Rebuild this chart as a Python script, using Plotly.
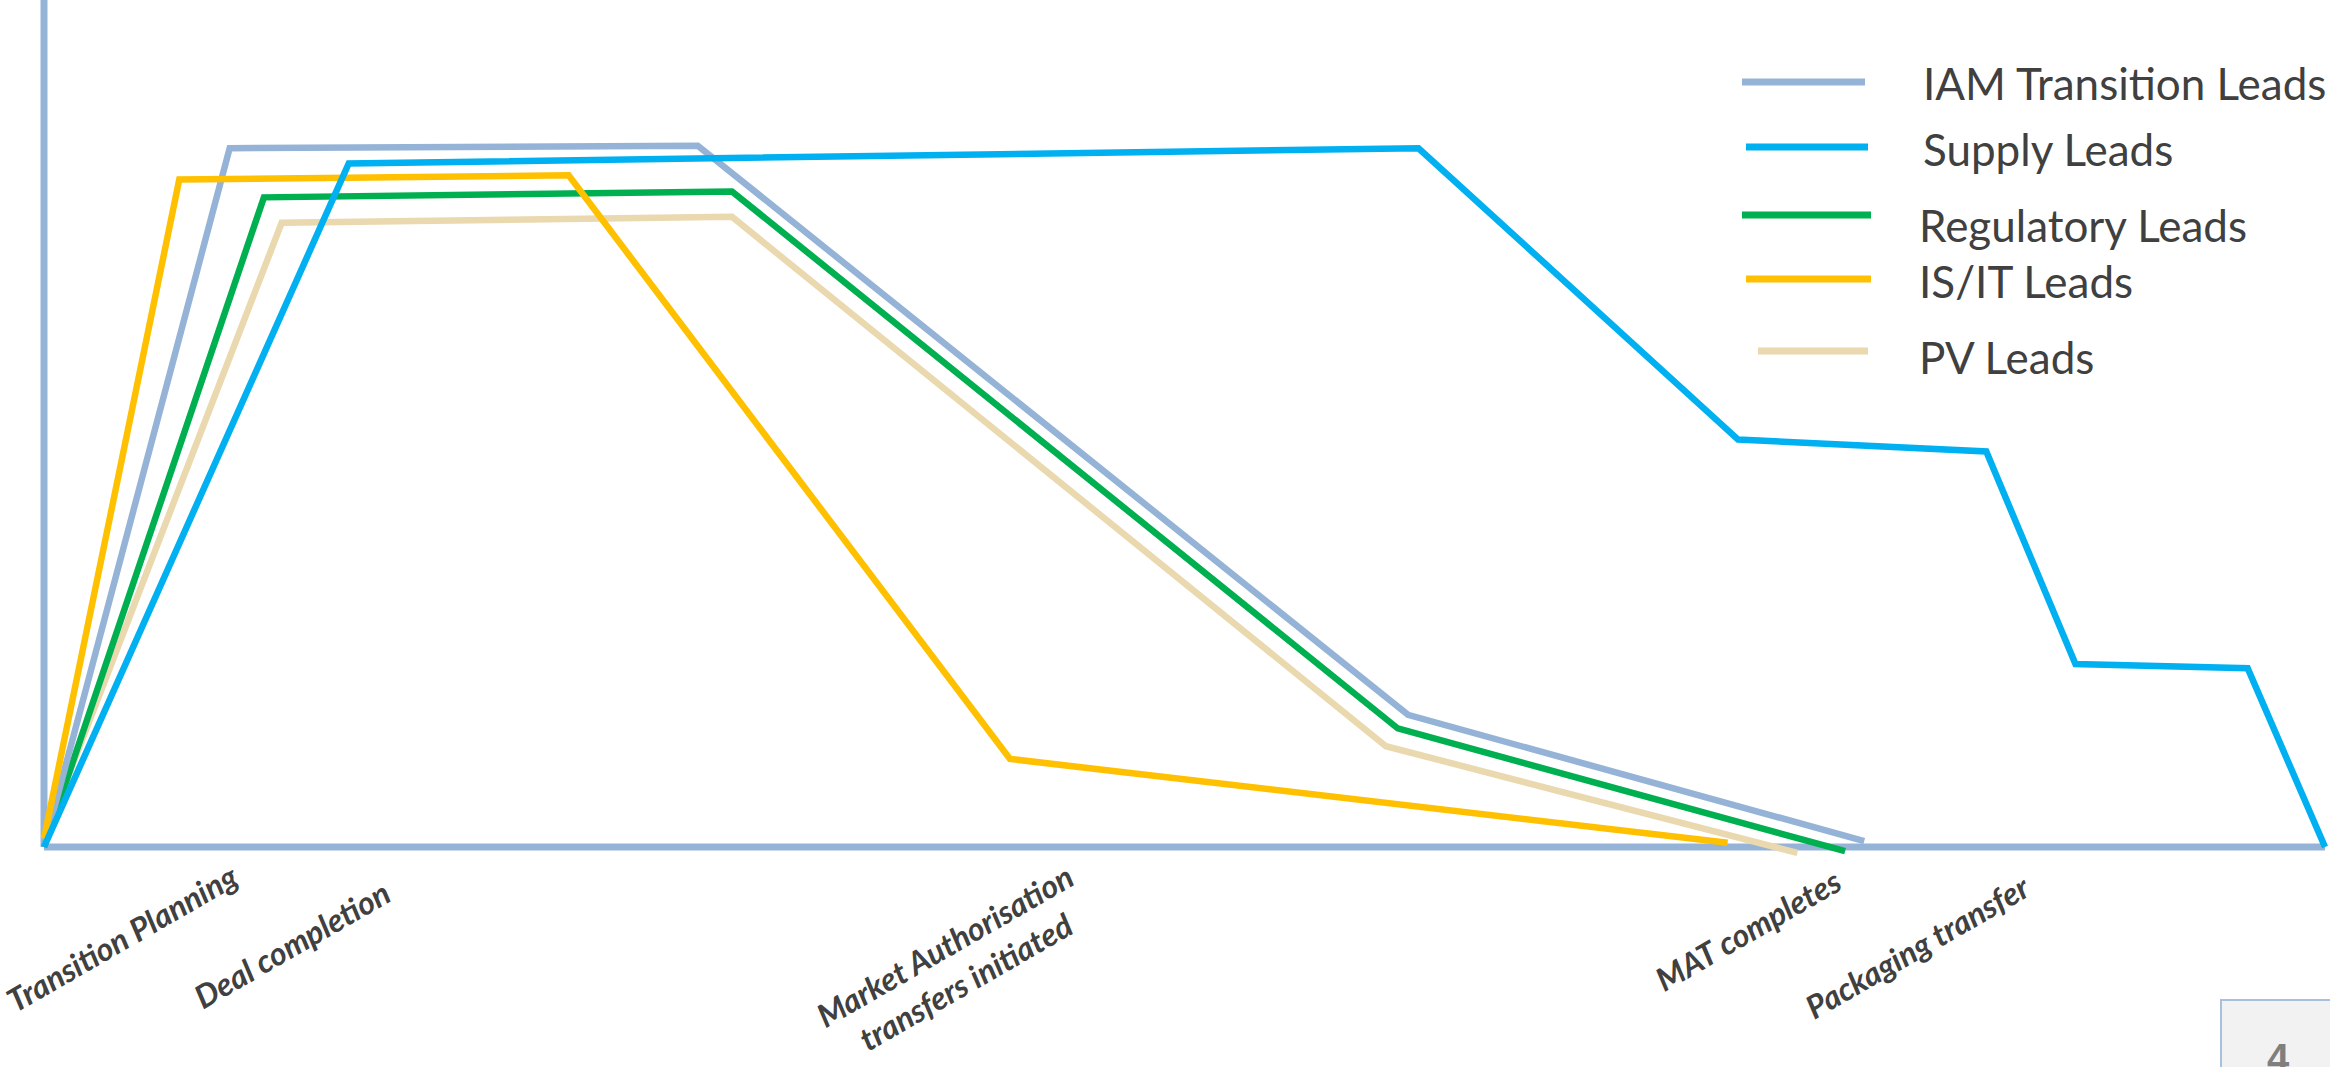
import plotly.graph_objects as go

# ---------------- data ----------------
series_names = ["IAM Transition Leads", "Supply Leads", "Regulatory Leads", "IS/IT Leads", "PV Leads"]

iam_x = [0, 8.14, 28.66, 59.80, 79.80]
iam_y = [0, 82.5, 82.8, 15.6, 0.7]

supply_x = [0, 13.36, 60.26, 74.27, 85.15, 89.06, 96.61, 100]
supply_y = [0, 80.7, 82.5, 48.1, 46.7, 21.6, 21.1, 0]

reg_x = [0, 9.64, 30.16, 59.35, 78.96]
reg_y = [0, 76.7, 77.4, 14.0, -0.5]

isit_x = [0, 5.93, 23.0, 42.35, 73.81]
isit_y = [1, 78.8, 79.3, 10.4, 0.5]

pv_x = [0, 10.42, 30.16, 58.83, 76.87]
pv_y = [1, 73.7, 74.4, 11.9, -0.7]

milestones = ["Transition Planning", "Deal completion",
              "Market Authorisation<br>transfers initiated",
              "MAT completes", "Packaging transfer"]

page_number = "4"

# ---------------- styling / layout ----------------
W, H = 2330, 1067
colors = {
    "IAM Transition Leads": "#95B3D7",
    "Supply Leads": "#00B0F0",
    "Regulatory Leads": "#00B050",
    "IS/IT Leads": "#FFC000",
    "PV Leads": "#EAD8AE",
}
axis_color = "#95B3D7"
text_color = "#404040"

# pixel geometry of the axes
x0_px, x100_px = 44, 2325
y0_px, y100_px = 847, 0
xs = (x100_px - x0_px) / 100.0
ys = (y0_px - y100_px) / 100.0
x_range = [-x0_px / xs, 100 + (W - x100_px) / xs]
y_range = [-(H - y0_px) / ys, 100]

data = {
    "IAM Transition Leads": (iam_x, iam_y),
    "Supply Leads": (supply_x, supply_y),
    "Regulatory Leads": (reg_x, reg_y),
    "IS/IT Leads": (isit_x, isit_y),
    "PV Leads": (pv_x, pv_y),
}
draw_order = ["PV Leads", "Regulatory Leads", "IAM Transition Leads", "IS/IT Leads", "Supply Leads"]

fig = go.Figure()
for name in draw_order:
    xv, yv = data[name]
    fig.add_trace(go.Scatter(x=xv, y=yv, mode="lines", name=name,
                             line=dict(color=colors[name], width=6.5),
                             showlegend=False, hoverinfo="skip"))

shapes = []
# axes lines
shapes.append(dict(type="line", xref="x", yref="y", x0=0, y0=0, x1=100, y1=0,
                   line=dict(color=axis_color, width=7), layer="below"))
shapes.append(dict(type="line", xref="x", yref="y", x0=0, y0=0, x1=0, y1=100,
                   line=dict(color=axis_color, width=7), layer="below"))

annotations = []
# milestone labels (positions in data units)
label_x = [3.42, 10.83, 39.94, 74.70, 82.10]
label_y = [-10.7, -11.5, -13.7, -9.7, -11.7]
for txt, lx, ly in zip(milestones, label_x, label_y):
    annotations.append(dict(x=lx, y=ly, xref="x", yref="y", text="<b><i>" + txt + "</i></b>",
                            showarrow=False, textangle=-30, xanchor="center", yanchor="middle",
                            font=dict(family="Lato", size=32, color=text_color), align="center"))

# manual legend (pixel positions)
leg_items = [
    (1742, 1865, 82, 1921, 83),
    (1746, 1868, 147, 1921, 149),
    (1742, 1871, 215, 1917, 225),
    (1746, 1871, 279, 1917, 281),
    (1758, 1868, 351, 1917, 357),
]
for name, (lx0, lx1, ly, tx, ty) in zip(series_names, leg_items):
    shapes.append(dict(type="line", xref="paper", yref="paper",
                       x0=lx0 / W, x1=lx1 / W, y0=1 - ly / H, y1=1 - ly / H,
                       line=dict(color=colors[name], width=7)))
    annotations.append(dict(x=tx / W, y=1 - ty / H, xref="paper", yref="paper", text=name,
                            showarrow=False, xanchor="left", yanchor="middle",
                            font=dict(family="Lato", size=44, color=text_color)))

# page number box
shapes.append(dict(type="rect", xref="paper", yref="paper",
                   x0=2221 / W, x1=2345 / W, y0=1 - 1075 / H, y1=1 - 1000 / H,
                   fillcolor="#F2F2F2", line=dict(color="#A6C0DE", width=2), layer="below"))
annotations.append(dict(x=2278 / W, y=1 - 1034 / H, xref="paper", yref="paper",
                        text="<b>" + page_number + "</b>", showarrow=False,
                        xanchor="center", yanchor="top",
                        font=dict(family="Liberation Sans", size=40, color="#7F7F7F")))

fig.update_layout(
    width=W, height=H,
    margin=dict(l=0, r=0, t=0, b=0),
    paper_bgcolor="white", plot_bgcolor="white",
    xaxis=dict(range=x_range, visible=False, domain=[0, 1]),
    yaxis=dict(range=y_range, visible=False, domain=[0, 1]),
    shapes=shapes, annotations=annotations,
    showlegend=False,
)

fig.write_html("out.html")
